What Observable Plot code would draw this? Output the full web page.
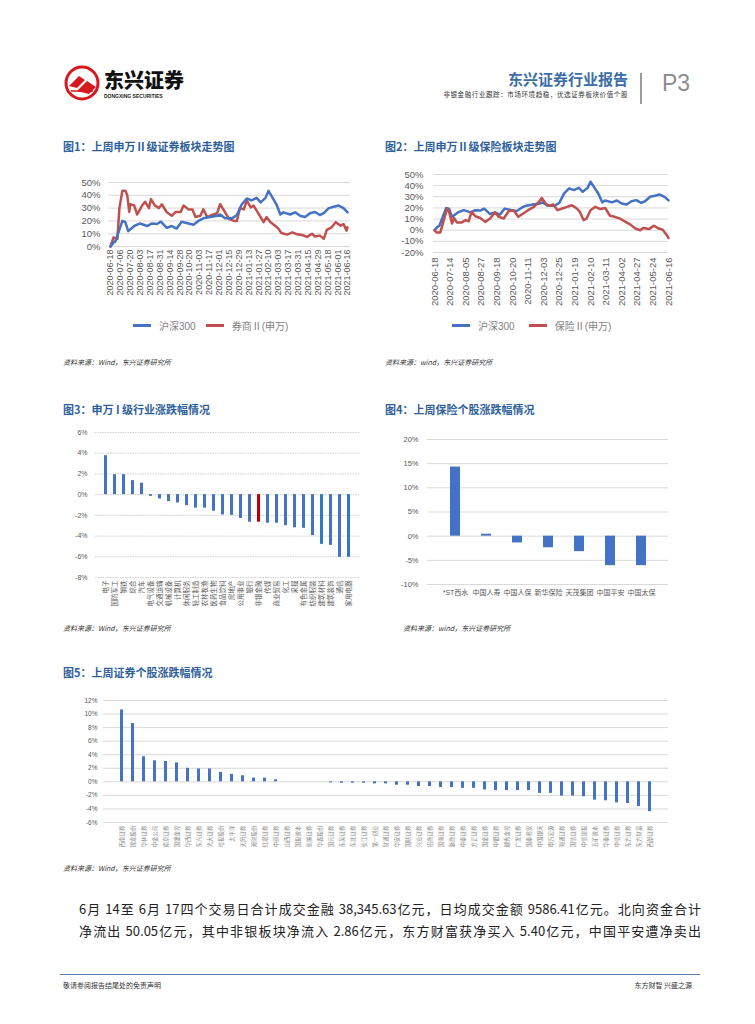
<!DOCTYPE html>
<html><head><meta charset="utf-8">
<script src="https://cdn.jsdelivr.net/npm/d3@7"></script>
<script src="https://cdn.jsdelivr.net/npm/@observablehq/plot@0.6"></script>
<style>
body{margin:0;background:#fff;}
#page{position:relative;width:755px;height:1024px;overflow:hidden;font-family:"Noto Sans CJK SC","Noto Sans",sans-serif;color:#222;}
.abs{position:absolute;}
.ftitle{position:absolute;font-size:11px;font-weight:bold;color:#2f5f9a;white-space:nowrap;}
.src{position:absolute;font-size:7px;font-style:italic;color:#333;white-space:nowrap;}
.legend{position:absolute;display:flex;align-items:center;font-size:10px;color:#7f7f7f;font-family:"Liberation Sans","Noto Sans CJK SC",sans-serif;white-space:nowrap;}
.legend .sw{display:inline-block;width:18px;height:3px;margin-right:8px;}
.para{position:absolute;left:79px;width:622px;font-size:13px;color:#222;white-space:nowrap;}
</style></head>
<body><div id="page">
<!-- header -->
<svg class="abs" style="left:63px;top:64px" width="40" height="40" viewBox="0 0 40 40">
  <circle cx="19" cy="19" r="16" fill="none" stroke="#d7191f" stroke-width="3"/>
  <path d="M6 22 L16 12 L22 16 L14 24 Z" fill="#d7191f"/>
  <path d="M14 27 L24 17 L33 23 L26 30 Z" fill="#d7191f"/>
  <path d="M8 27 L30 27" stroke="#d7191f" stroke-width="1.5"/>
</svg>
<div class="abs" style="left:104px;top:70px;font-size:20px;line-height:1;font-weight:900;color:#111;">东兴证券</div>
<div class="abs" style="left:104px;top:94px;font-size:5px;line-height:1;font-weight:bold;color:#222;font-family:'Liberation Sans',sans-serif;">DONGXING SECURITIES</div>
<div class="abs" style="right:127px;top:68px;font-size:15px;font-weight:bold;color:#3a6ea5;">东兴证券行业报告</div>
<div class="abs" style="right:127px;top:89px;font-size:6.5px;color:#333;letter-spacing:0.6px;">非银金融行业跟踪：市场环境趋稳，优选证券板块价值个股</div>
<div class="abs" style="left:640px;top:73px;width:1.5px;height:31px;background:#9a9a9a;"></div>
<div class="abs" style="left:662px;top:70px;font-size:23px;color:#8c8c8c;font-family:'Liberation Sans',sans-serif;">P3</div>

<div class="ftitle" style="left:63px;top:138px;">图1：上周申万Ⅱ级证券板块走势图</div>
<div class="ftitle" style="left:385px;top:138px;">图2：上周申万Ⅱ级保险板块走势图</div>
<div id="c1" class="abs" style="left:60px;top:170px;"></div>
<div id="c2" class="abs" style="left:380px;top:165px;"></div>
<div class="legend" style="left:133px;top:318px;"><span class="sw" style="background:#4472c4"></span>沪深300<span class="sw" style="background:#c0504d;margin-left:10px"></span>券商Ⅱ(申万)</div>
<div class="legend" style="left:452px;top:318px;"><span class="sw" style="background:#4472c4"></span>沪深300<span class="sw" style="background:#c0504d;margin-left:14px"></span>保险Ⅱ(申万)</div>
<div class="src" style="left:63px;top:357px;">资料来源：Wind，东兴证券研究所</div>
<div class="src" style="left:385px;top:357px;">资料来源：wind，东兴证券研究所</div>

<div class="ftitle" style="left:63px;top:401px;">图3：申万 I 级行业涨跌幅情况</div>
<div class="ftitle" style="left:385px;top:401px;">图4：上周保险个股涨跌幅情况</div>
<div id="c3" class="abs" style="left:60px;top:420px;"></div>
<div id="c4" class="abs" style="left:380px;top:425px;"></div>
<div class="src" style="left:63px;top:623px;">资料来源：Wind，东兴证券研究所</div>
<div class="src" style="left:403px;top:623px;">资料来源：wind，东兴证券研究所</div>

<div class="ftitle" style="left:63px;top:664px;">图5：上周证券个股涨跌幅情况</div>
<div id="c5" class="abs" style="left:60px;top:690px;"></div>
<div class="src" style="left:63px;top:863px;">资料来源：Wind，东兴证券研究所</div>

<div class="para" style="top:899px;text-align:justify;text-align-last:justify;">6月 14至 6月 17四个交易日合计成交金融 38,345.63亿元，日均成交金额 9586.41亿元。北向资金合计</div>
<div class="para" style="top:921px;text-align:justify;text-align-last:justify;">净流出 50.05亿元，其中非银板块净流入 2.86亿元，东方财富获净买入 5.40亿元，中国平安遭净卖出</div>

<div class="abs" style="left:60px;top:974px;width:640px;height:1px;background:#5b7fae;"></div>
<div class="abs" style="left:63px;top:980px;font-size:7px;color:#333;">敬请参阅报告结尾处的免责声明</div>
<div class="abs" style="right:63px;top:980px;font-size:7px;color:#333;">东方财智 兴盛之源</div>
</div>
<script>
// ---------- Data ----------
const dates1 = ["2020-06-18","2020-07-06","2020-07-20","2020-08-03","2020-08-17","2020-08-31","2020-09-14","2020-09-28","2020-10-20","2020-11-03","2020-11-17","2020-12-01","2020-12-15","2020-12-29","2021-01-13","2021-01-27","2021-02-10","2021-03-03","2021-03-17","2021-03-31","2021-04-15","2021-04-29","2021-05-18","2021-06-01","2021-06-16"];
const dates2 = ["2020-06-18","2020-07-14","2020-08-05","2020-08-27","2020-09-18","2020-10-20","2020-11-11","2020-12-03","2020-12-25","2021-01-19","2021-02-10","2021-03-11","2021-04-02","2021-04-27","2021-05-24","2021-06-16"];
// trading-day index and cumulative % change
const hsIdx = [0,3,5,12,15,18,24,30,37,42,47,51,57,62,67,72,79,84,89,94,101,108,111,116,123,128,133,138,143,148,152,157,160,163,168,172,175,182,187,192,197,202,207,212,216,221,226,231,236,240];
const hsVal = [0,3,4,20,19,12,16,18,16,18,17.6,19.4,14.5,16,14,19.4,18,17,20,22,23,24,25,22,22,24.6,33,37.5,36,38,34.5,38,43.5,39.6,33,25,26.7,25,26.7,24,23,26,27,24.6,26,30,31,32,30,26.7];
const qsIdx = [0,3,7,9,12,15,17,19,20,24,27,32,35,39,41,45,49,52,57,62,66,71,74,79,83,86,91,94,98,103,108,111,115,120,125,128,131,135,138,142,145,148,152,155,158,162,167,170,173,179,184,189,194,199,204,207,212,216,219,224,228,233,236,239,240];
const qsVal = [0,7,6,30,43.5,43.5,40,27,33,32,25,32,35,30,37,32,30,33,26.7,24,27,27,32,29,29,23,24,29,23,24.6,26,33,28,21.5,20,20,30,29,35.8,30.6,32,28,23,19,23,19,16,14,10.6,9.3,11,9.6,9,7.5,10,7.8,8.5,6,13,15,19,16.3,17.6,12.4,15];
const bxIdx = [0,2,6,9,13,15,18,20,23,28,32,35,38,42,47,52,57,62,66,71,76,81,86,91,96,102,107,110,114,117,122,126,131,136,141,146,149,153,156,160,165,170,175,180,185,190,196,201,206,211,214,220,225,230,234,238,240];
const bxVal = [0,-2,-2,7.5,19.5,16.5,6,11,7,7,9,8,16.5,12.5,11,7.5,10.5,16,12,10.5,17,18,12,15,18,21,25.4,29,24,22,23,18,19.5,21,22.4,19.5,16.5,9,10.5,18,21,19,20,13,12,10.5,7.5,5,1.5,0,2,1,4,1.5,0.5,-4,-7];

const indNames = ["电子","国防军工","钢铁","综合","汽车","电气设备","交通运输","机械设备","计算机","休闲服务","轻工制造","农林牧渔","医药生物","食品饮料","房地产","公用事业","银行","非银金融","传媒","商业贸易","化工","采掘","有色金属","纺织服装","建筑材料","建筑装饰","通信","家用电器"];
const indVals = [3.76,1.93,1.93,1.35,1.1,-0.16,-0.42,-0.67,-0.8,-1.06,-1.3,-1.3,-1.6,-1.96,-2.0,-2.3,-2.66,-2.66,-2.76,-2.76,-3.0,-3.2,-3.25,-3.95,-4.8,-4.9,-6.05,-6.05];

const insNames = ["*ST西水","中国人寿","中国人保","新华保险","天茂集团","中国平安","中国太保"];
const insVals = [14.3,0.4,-1.4,-2.4,-3.2,-6.1,-6.1];

const secNames = ["西南证券","锦龙股份","华林证券","中金公司","南京证券","国盛金控","华西证券","东兴证券","光大证券","哈投股份","太平洋","天风证券","湘财股份","红塔证券","中原证券","山西证券","国投资本","长城证券","华鑫股份","国元证券","东吴证券","东北证券","长江证券","第一创业","财通证券","华安证券","国联证券","兴业证券","招商证券","国海证券","浙商证券","中泰证券","方正证券","国金证券","中银证券","越秀金控","广发证券","国泰君安","中国银河","申万宏源","海通证券","国信证券","中信建投","五矿资本","华泰证券","中信证券","东方证券","东方财富","西部证券"];
const secVals = [10.6,8.6,3.7,3.1,3.0,2.8,2.0,1.9,1.9,1.4,1.1,0.9,0.55,0.55,0.3,0,0,0,0,-0.15,-0.2,-0.2,-0.2,-0.3,-0.3,-0.5,-0.5,-0.7,-0.7,-0.85,-0.85,-0.95,-0.95,-1.2,-1.3,-1.3,-1.3,-1.3,-1.7,-1.7,-2.1,-2.1,-2.2,-2.7,-2.8,-3.1,-3.2,-3.65,-4.4];

// ---------- helpers ----------
const BLUE = "#4472c4", RED = "#c0504d";
const pts = (xs, ys) => xs.map((x, i) => ({x, y: ys[i]}));
const pct = d => d + "%";
const baseStyle = (fs) => ({fontFamily: "'Liberation Sans','Noto Sans CJK SC',sans-serif", fontSize: fs, color: "#595959", background: "transparent"});

// ---------- Fig 1 ----------
document.getElementById("c1").append(Plot.plot({
  width: 300, height: 145, marginLeft: 48, marginRight: 10, marginTop: 12, marginBottom: 69,
  insetLeft: 2, insetRight: 3,
  style: baseStyle("9.5px"),
  x: {domain: [0, 240]},
  y: {domain: [0, 50]},
  marks: [
    Plot.gridY([0,10,20,30,40,50], {stroke: "#d9d9d9", strokeOpacity: 1}),
    Plot.axisY([0,10,20,30,40,50], {tickSize: 0, tickPadding: 8, tickFormat: pct, label: null}),
    Plot.axisX(dates1.map((d, i) => i * 10), {tickSize: 0, tickPadding: 3, tickRotate: -90, fontSize: "9px", tickFormat: v => dates1[v / 10], label: null}),
    Plot.line(pts(qsIdx, qsVal), {x: "x", y: "y", stroke: RED, strokeWidth: 2.5}),
    Plot.line(pts(hsIdx, hsVal), {x: "x", y: "y", stroke: BLUE, strokeWidth: 2.5})
  ]
}));

// ---------- Fig 2 ----------
document.getElementById("c2").append(Plot.plot({
  width: 310, height: 150, marginLeft: 53, marginRight: 22, marginTop: 9, marginBottom: 63,
  insetLeft: 1,
  style: baseStyle("9.5px"),
  x: {domain: [0, 240]},
  y: {domain: [-20, 50]},
  marks: [
    Plot.gridY([-20,-10,0,10,20,30,40,50], {stroke: "#d9d9d9", strokeOpacity: 1}),
    Plot.axisY([-20,-10,0,10,20,30,40,50], {tickSize: 0, tickPadding: 10, tickFormat: pct, label: null}),
    Plot.axisX(dates2.map((d, i) => i * 16), {tickSize: 0, tickPadding: 5, tickRotate: -90, fontSize: "9.5px", tickFormat: v => dates2[v / 16], label: null}),
    Plot.line(pts(hsIdx, hsVal), {x: "x", y: "y", stroke: BLUE, strokeWidth: 2.5}),
    Plot.line(pts(bxIdx, bxVal), {x: "x", y: "y", stroke: RED, strokeWidth: 2.5})
  ]
}));

// ---------- Fig 3 ----------
const indData = indNames.map((n, i) => ({n, v: indVals[i]}));
const brightBlue = new Set(["建筑材料","家用电器"]);
document.getElementById("c3").append(Plot.plot({
  width: 310, height: 195, marginLeft: 35, marginRight: 10, marginTop: 12, marginBottom: 38,
  style: baseStyle("7px"),
  x: {domain: indNames, padding: 0.65},
  y: {domain: [-8, 6]},
  marks: [
    Plot.gridY(d3.range(-8, 7, 2), {stroke: "#d0d0d0", strokeOpacity: 1, strokeDasharray: "1.5,1"}),
    Plot.axisY(d3.range(-8, 7, 2), {tickSize: 0, tickPadding: 8, tickFormat: pct, label: null}),
    Plot.barY(indData, {x: "n", y: "v", fill: d => d.n === "非银金融" ? "#c00000" : brightBlue.has(d.n) ? "#2e7bc4" : BLUE}),
    Plot.axisX({tickSize: 0, tickPadding: 3, tickRotate: -90, fontSize: "6.5px", label: null})
  ]
}));

// ---------- Fig 4 ----------
const insData = insNames.map((n, i) => ({n, v: insVals[i]}));
document.getElementById("c4").append(Plot.plot({
  width: 310, height: 180, marginLeft: 47, marginRight: 22, marginTop: 14, marginBottom: 21,
  style: baseStyle("7.5px"),
  x: {domain: insNames, padding: 0.69},
  y: {domain: [-10, 20]},
  marks: [
    Plot.gridY(d3.range(-10, 21, 5), {stroke: "#d9d9d9", strokeOpacity: 1}),
    Plot.axisY(d3.range(-10, 21, 5), {tickSize: 0, tickPadding: 9, tickFormat: pct, label: null}),
    Plot.barY(insData, {x: "n", y: "v", fill: BLUE}),
    Plot.axisX({tickSize: 0, tickPadding: 6, fontSize: "7px", label: null})
  ]
}));

// ---------- Fig 5 ----------
const secData = secNames.map((n, i) => ({n, v: secVals[i]}));
document.getElementById("c5").append(Plot.plot({
  width: 620, height: 162, marginLeft: 43, marginRight: 12, marginTop: 10, marginBottom: 30,
  style: baseStyle("6.5px"),
  x: {domain: secNames, padding: 0.7},
  y: {domain: [-6, 12]},
  marks: [
    Plot.gridY(d3.range(-6, 13, 2), {stroke: "#d9d9d9", strokeOpacity: 1}),
    Plot.axisY(d3.range(-6, 13, 2), {tickSize: 0, tickPadding: 6, tickFormat: pct, label: null}),
    Plot.barY(secData, {x: "n", y: "v", fill: BLUE}),
    Plot.axisX({tickSize: 0, tickPadding: 3, tickRotate: -90, fontSize: "5.5px", label: null, fill: "#8a8a8a"})
  ]
}));
</script>
</body></html>
